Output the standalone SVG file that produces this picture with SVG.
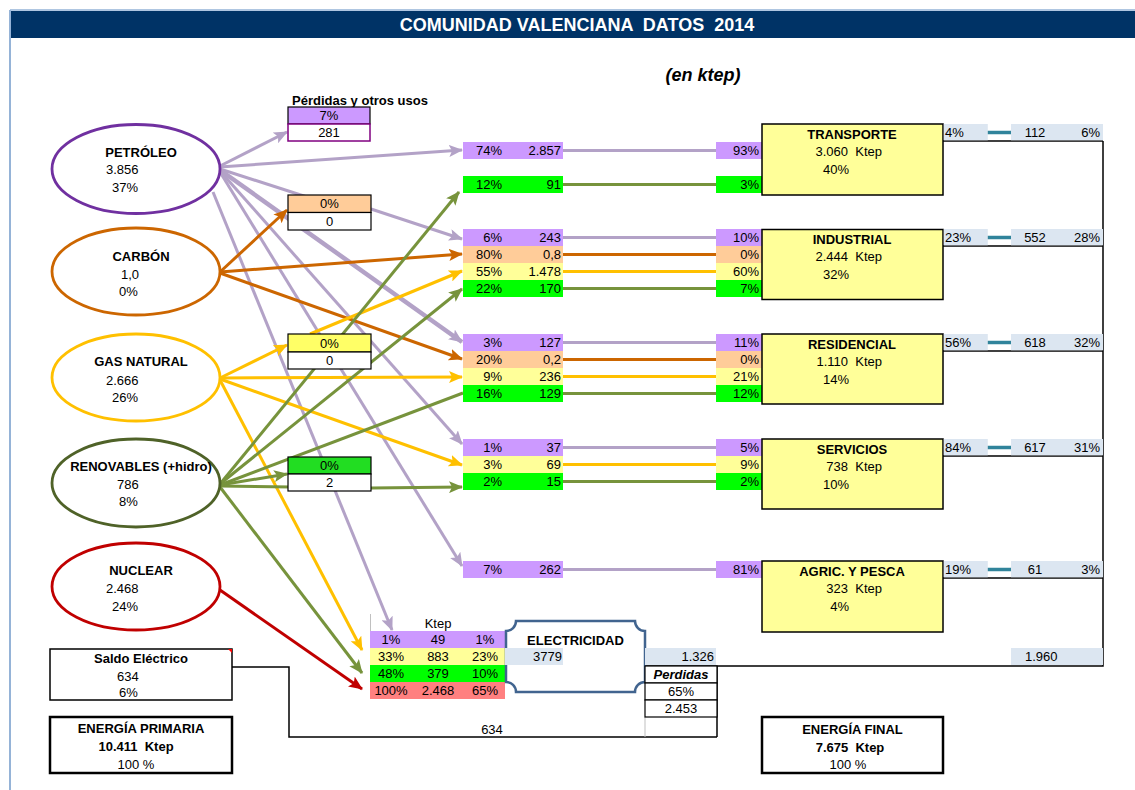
<svg xmlns="http://www.w3.org/2000/svg" width="1135" height="790" viewBox="0 0 1135 790">
<style>
text{font-family:"Liberation Sans",Arial,sans-serif;font-size:13px;fill:#000;white-space:pre}
.b{font-weight:bold}.c{text-anchor:middle}.e{text-anchor:end}
.pu{fill:#cc99ff}.pe{fill:#ffcc99}.ye{fill:#ffff99}.gr{fill:#00ff00}.sa{fill:#ff8080}.lb{fill:#dce6f1}
.lp{stroke:#b3a2c7;stroke-width:3;fill:none}
.lo{stroke:#cc6600;stroke-width:3;fill:none}
.ly{stroke:#ffc000;stroke-width:3;fill:none}
.lg{stroke:#77933c;stroke-width:3;fill:none}
.lr{stroke:#c00000;stroke-width:3;fill:none}
.lt{stroke:#31849b;stroke-width:3.5;fill:none}
.lk{stroke:#000;stroke-width:1.5;fill:none}
.sec{fill:#ffff99;stroke:#000;stroke-width:1.5}
.bx{stroke:#000;stroke-width:1.2}
.ell{fill:#fff;stroke-width:2.8}
</style>
<defs>
<marker id="ap" markerUnits="userSpaceOnUse" markerWidth="14" markerHeight="12" viewBox="0 0 14 12" refX="13" refY="6" orient="auto"><path d="M0,0 L14,6 L0,12 L3,6 z" fill="#b3a2c7"/></marker>
<marker id="ao" markerUnits="userSpaceOnUse" markerWidth="14" markerHeight="12" viewBox="0 0 14 12" refX="13" refY="6" orient="auto"><path d="M0,0 L14,6 L0,12 L3,6 z" fill="#cc6600"/></marker>
<marker id="ay" markerUnits="userSpaceOnUse" markerWidth="14" markerHeight="12" viewBox="0 0 14 12" refX="13" refY="6" orient="auto"><path d="M0,0 L14,6 L0,12 L3,6 z" fill="#ffc000"/></marker>
<marker id="ag" markerUnits="userSpaceOnUse" markerWidth="14" markerHeight="12" viewBox="0 0 14 12" refX="13" refY="6" orient="auto"><path d="M0,0 L14,6 L0,12 L3,6 z" fill="#77933c"/></marker>
<marker id="ar" markerUnits="userSpaceOnUse" markerWidth="14" markerHeight="12" viewBox="0 0 14 12" refX="13" refY="6" orient="auto"><path d="M0,0 L14,6 L0,12 L3,6 z" fill="#c00000"/></marker>
</defs>
<rect x="0" y="0" width="1135" height="790" fill="#fff"/>
<g id="frame">
<line x1="10" y1="10" x2="10" y2="790" stroke="#95b3d7" stroke-width="2"/>
<line x1="10" y1="10" x2="1135" y2="10" stroke="#95b3d7" stroke-width="1.5"/>
<rect x="11" y="11" width="1124" height="27" fill="#003366"/>
<text x="577" y="31" class="b c" style="font-size:18px;fill:#fff">COMUNIDAD VALENCIANA  DATOS  2014</text>
<text x="703" y="81" class="b c" style="font-size:18px;font-style:italic">(en ktep)</text>
</g>

<g id="connectors">
<line class="lp" x1="220" y1="166" x2="287" y2="132" marker-end="url(#ap)"/>
<line class="lp" x1="220" y1="167" x2="462" y2="150" marker-end="url(#ap)"/>
<line class="lp" x1="220" y1="169" x2="307" y2="197"/>
<line class="lp" x1="371" y1="209" x2="462" y2="239" marker-end="url(#ap)"/>
<line class="lp" x1="220" y1="170" x2="462" y2="342" style="stroke-width:4.5" marker-end="url(#ap)"/>
<line class="lp" x1="220" y1="171" x2="462" y2="444" marker-end="url(#ap)"/>
<line class="lp" x1="220" y1="172" x2="462" y2="566" marker-end="url(#ap)"/>
<line class="lp" x1="213" y1="192" x2="392" y2="630" marker-end="url(#ap)"/>
<line class="lo" x1="220" y1="272" x2="287" y2="210" marker-end="url(#ao)"/>
<line class="lo" x1="220" y1="272" x2="462" y2="254" marker-end="url(#ao)"/>
<line class="lo" x1="220" y1="273" x2="462" y2="359" marker-end="url(#ao)"/>
<line class="ly" x1="220" y1="378" x2="287" y2="345" marker-end="url(#ay)"/>
<line class="ly" x1="310" y1="334" x2="462" y2="271" marker-end="url(#ay)"/>
<line class="ly" x1="220" y1="378" x2="462" y2="377" marker-end="url(#ay)"/>
<line class="ly" x1="220" y1="379" x2="462" y2="465" marker-end="url(#ay)"/>
<line class="ly" x1="220" y1="380" x2="362" y2="650" marker-end="url(#ay)"/>
<line class="lg" x1="220" y1="484" x2="459" y2="192" marker-end="url(#ag)"/>
<line class="lg" x1="220" y1="484" x2="462" y2="289" marker-end="url(#ag)"/>
<line class="lg" x1="220" y1="485" x2="463" y2="393"/>
<line class="lg" x1="220" y1="485" x2="287" y2="474" marker-end="url(#ag)"/>
<line class="lg" x1="220" y1="486" x2="291" y2="487"/>
<line class="lg" x1="371" y1="488" x2="462" y2="487" marker-end="url(#ag)"/>
<line class="lg" x1="220" y1="487" x2="362" y2="673" marker-end="url(#ag)"/>
<line class="lr" x1="220" y1="590" x2="362" y2="689" marker-end="url(#ar)"/>
<line class="lp" x1="563" y1="150.5" x2="716" y2="150.5"/>
<line class="lg" x1="563" y1="184.5" x2="716" y2="184.5"/>
<line class="lp" x1="563" y1="237.5" x2="716" y2="237.5"/>
<line class="lo" x1="563" y1="254.5" x2="716" y2="254.5"/>
<line class="ly" x1="563" y1="271.5" x2="716" y2="271.5"/>
<line class="lg" x1="563" y1="288.5" x2="716" y2="288.5"/>
<line class="lp" x1="563" y1="342.5" x2="716" y2="342.5"/>
<line class="lo" x1="563" y1="359.5" x2="716" y2="359.5"/>
<line class="ly" x1="563" y1="376.5" x2="716" y2="376.5"/>
<line class="lg" x1="563" y1="393.5" x2="716" y2="393.5"/>
<line class="lp" x1="563" y1="447.5" x2="716" y2="447.5"/>
<line class="ly" x1="563" y1="464.5" x2="716" y2="464.5"/>
<line class="lg" x1="563" y1="481.5" x2="716" y2="481.5"/>
<line class="lp" x1="563" y1="569.5" x2="716" y2="569.5"/>
<line class="lt" x1="985" y1="132.5" x2="1011" y2="132.5"/>
<line class="lt" x1="985" y1="237.5" x2="1011" y2="237.5"/>
<line class="lt" x1="985" y1="342.5" x2="1011" y2="342.5"/>
<line class="lt" x1="985" y1="447.5" x2="1011" y2="447.5"/>
<line class="lt" x1="985" y1="569.5" x2="1011" y2="569.5"/>
<line class="lk" x1="943" y1="141" x2="1103" y2="141"/>
<line class="lk" x1="943" y1="246" x2="1103" y2="246"/>
<line class="lk" x1="943" y1="351" x2="1103" y2="351"/>
<line class="lk" x1="943" y1="456" x2="1103" y2="456"/>
<line class="lk" x1="943" y1="578" x2="1103" y2="578"/>
<polyline class="lk" points="1103,141 1103,666 645,666"/>
<polyline class="lk" points="232,667 289,667 289,737 717,737"/>
<line x1="645" y1="717" x2="645" y2="737" stroke="#bfbfbf" stroke-width="1"/>
<line class="lk" x1="717" y1="666" x2="717" y2="737"/>
<line x1="370.5" y1="614" x2="370.5" y2="631" stroke="#c0c0c0" stroke-width="1"/>
</g>

<g id="petroleo">
<ellipse class="ell" cx="136" cy="169" rx="84" ry="44.5" stroke="#7030a0"/>
<text x="141" y="157" class="b c">PETRÓLEO</text>
<text x="106" y="174">3.856</text>
<text x="112" y="192">37%</text>
</g>
<g id="carbon">
<ellipse class="ell" cx="136" cy="271.5" rx="84" ry="43.5" stroke="#cc6600"/>
<text x="141" y="261" class="b c">CARBÓN</text>
<text x="121" y="279">1,0</text>
<text x="119" y="296">0%</text>
</g>
<g id="gas-natural">
<ellipse class="ell" cx="136" cy="377.5" rx="84" ry="43.5" stroke="#ffc000"/>
<text x="141" y="366" class="b c">GAS NATURAL</text>
<text x="106" y="385">2.666</text>
<text x="112" y="402">26%</text>
</g>
<g id="renovables">
<ellipse class="ell" cx="136" cy="483" rx="84" ry="44" stroke="#4f6228"/>
<text x="141" y="471" class="b c">RENOVABLES (+hidro)</text>
<text x="117" y="489">786</text>
<text x="119" y="506">8%</text>
</g>
<g id="nuclear">
<ellipse class="ell" cx="136" cy="586.5" rx="84" ry="43.5" stroke="#c00000"/>
<text x="141" y="575" class="b c">NUCLEAR</text>
<text x="106" y="593">2.468</text>
<text x="112" y="611">24%</text>
</g>

<g id="perdidas-otros-usos">
<text x="360" y="105" class="b c">Pérdidas y otros usos</text>
<rect x="288" y="107" width="82" height="17" class="pu bx"/>
<rect x="288" y="124" width="82" height="17" fill="#fff" stroke="#800080" stroke-width="1.5"/>
<text x="329" y="120" class="c">7%</text>
<text x="329" y="137" class="c">281</text>
</g>
<g id="box-carbon">
<rect x="288" y="195" width="83" height="17.5" class="pe bx"/>
<rect x="288" y="212.5" width="83" height="17.5" fill="#fff" class="bx"/>
<text x="329.5" y="208" class="c">0%</text>
<text x="329.5" y="226" class="c">0</text>
</g>
<g id="box-gas">
<rect x="288" y="334" width="83" height="18" fill="#ffff66" class="bx"/>
<rect x="288" y="352" width="83" height="17" fill="#fff" class="bx"/>
<text x="329.5" y="347.5" class="c">0%</text>
<text x="329.5" y="365" class="c">0</text>
</g>
<g id="box-renovables">
<rect x="288" y="457" width="83" height="17" fill="#22dd22" class="bx"/>
<rect x="288" y="474" width="83" height="17" fill="#fff" class="bx"/>
<text x="329.5" y="470" class="c">0%</text>
<text x="329.5" y="487" class="c">2</text>
</g>

<g id="mid-transporte">
<rect class="pu" x="463" y="142" width="100" height="17"/><text class="e" x="502" y="155">74%</text><text class="e" x="561" y="155">2.857</text>
<rect class="gr" x="463" y="176" width="100" height="17"/><text class="e" x="502" y="189">12%</text><text class="e" x="561" y="189">91</text>
</g>
<g id="mid-industrial">
<rect class="pu" x="463" y="229" width="100" height="17"/><text class="e" x="502" y="242">6%</text><text class="e" x="561" y="242">243</text>
<rect class="pe" x="463" y="246" width="100" height="17"/><text class="e" x="502" y="259">80%</text><text class="e" x="561" y="259">0,8</text>
<rect class="ye" x="463" y="263" width="100" height="17"/><text class="e" x="502" y="276">55%</text><text class="e" x="561" y="276">1.478</text>
<rect class="gr" x="463" y="280" width="100" height="17"/><text class="e" x="502" y="293">22%</text><text class="e" x="561" y="293">170</text>
</g>
<g id="mid-residencial">
<rect class="pu" x="463" y="334" width="100" height="17"/><text class="e" x="502" y="347">3%</text><text class="e" x="561" y="347">127</text>
<rect class="pe" x="463" y="351" width="100" height="17"/><text class="e" x="502" y="364">20%</text><text class="e" x="561" y="364">0,2</text>
<rect class="ye" x="463" y="368" width="100" height="17"/><text class="e" x="502" y="381">9%</text><text class="e" x="561" y="381">236</text>
<rect class="gr" x="463" y="385" width="100" height="17"/><text class="e" x="502" y="398">16%</text><text class="e" x="561" y="398">129</text>
</g>
<g id="mid-servicios">
<rect class="pu" x="463" y="439" width="100" height="17"/><text class="e" x="502" y="452">1%</text><text class="e" x="561" y="452">37</text>
<rect class="ye" x="463" y="456" width="100" height="17"/><text class="e" x="502" y="469">3%</text><text class="e" x="561" y="469">69</text>
<rect class="gr" x="463" y="473" width="100" height="17"/><text class="e" x="502" y="486">2%</text><text class="e" x="561" y="486">15</text>
</g>
<g id="mid-agric">
<rect class="pu" x="463" y="561" width="100" height="17"/><text class="e" x="502" y="574">7%</text><text class="e" x="561" y="574">262</text>
</g>

<g id="transporte">
<rect class="pu" x="716" y="142" width="46" height="17"/><text class="e" x="759" y="155">93%</text>
<rect class="gr" x="716" y="176" width="46" height="17"/><text class="e" x="759" y="189">3%</text>
<rect class="sec" x="762" y="124" width="181" height="71"/>
<text x="852" y="138.5" class="b c">TRANSPORTE</text>
<text x="882" y="156" class="e">3.060  Ktep</text>
<text x="849" y="174" class="e">40%</text>
<rect class="lb" x="943.8" y="124" width="44" height="16.3"/><text x="945" y="137">4%</text>
<rect class="lb" x="1011" y="124" width="92" height="16.3"/><text x="1035" y="137" class="c">112</text><text x="1100" y="137" class="e">6%</text>
</g>
<g id="industrial">
<rect class="pu" x="716" y="229" width="46" height="17"/><text class="e" x="759" y="242">10%</text>
<rect class="pe" x="716" y="246" width="46" height="17"/><text class="e" x="759" y="259">0%</text>
<rect class="ye" x="716" y="263" width="46" height="17"/><text class="e" x="759" y="276">60%</text>
<rect class="gr" x="716" y="280" width="46" height="17"/><text class="e" x="759" y="293">7%</text>
<rect class="sec" x="762" y="229.5" width="181" height="70"/>
<text x="852" y="243.5" class="b c">INDUSTRIAL</text>
<text x="882" y="261" class="e">2.444  Ktep</text>
<text x="849" y="279" class="e">32%</text>
<rect class="lb" x="943.8" y="229" width="44" height="16.3"/><text x="945" y="242">23%</text>
<rect class="lb" x="1011" y="229" width="92" height="16.3"/><text x="1035" y="242" class="c">552</text><text x="1100" y="242" class="e">28%</text>
</g>
<g id="residencial">
<rect class="pu" x="716" y="334" width="46" height="17"/><text class="e" x="759" y="347">11%</text>
<rect class="pe" x="716" y="351" width="46" height="17"/><text class="e" x="759" y="364">0%</text>
<rect class="ye" x="716" y="368" width="46" height="17"/><text class="e" x="759" y="381">21%</text>
<rect class="gr" x="716" y="385" width="46" height="17"/><text class="e" x="759" y="398">12%</text>
<rect class="sec" x="762" y="334" width="181" height="70"/>
<text x="852" y="348.5" class="b c">RESIDENCIAL</text>
<text x="882" y="366" class="e">1.110  Ktep</text>
<text x="849" y="384" class="e">14%</text>
<rect class="lb" x="943.8" y="334" width="44" height="16.3"/><text x="945" y="347">56%</text>
<rect class="lb" x="1011" y="334" width="92" height="16.3"/><text x="1035" y="347" class="c">618</text><text x="1100" y="347" class="e">32%</text>
</g>
<g id="servicios">
<rect class="pu" x="716" y="439" width="46" height="17"/><text class="e" x="759" y="452">5%</text>
<rect class="ye" x="716" y="456" width="46" height="17"/><text class="e" x="759" y="469">9%</text>
<rect class="gr" x="716" y="473" width="46" height="17"/><text class="e" x="759" y="486">2%</text>
<rect class="sec" x="762" y="439" width="181" height="70"/>
<text x="852" y="453.5" class="b c">SERVICIOS</text>
<text x="882" y="471" class="e">738  Ktep</text>
<text x="849" y="489" class="e">10%</text>
<rect class="lb" x="943.8" y="439" width="44" height="16.3"/><text x="945" y="452">84%</text>
<rect class="lb" x="1011" y="439" width="92" height="16.3"/><text x="1035" y="452" class="c">617</text><text x="1100" y="452" class="e">31%</text>
</g>
<g id="agric-pesca">
<rect class="pu" x="716" y="561" width="46" height="17"/><text class="e" x="759" y="574">81%</text>
<rect class="sec" x="762" y="561" width="181" height="71"/>
<text x="852" y="575.5" class="b c">AGRIC. Y PESCA</text>
<text x="882" y="593" class="e">323  Ktep</text>
<text x="849" y="611" class="e">4%</text>
<rect class="lb" x="943.8" y="561" width="44" height="16.3"/><text x="945" y="574">19%</text>
<rect class="lb" x="1011" y="561" width="92" height="16.3"/><text x="1035" y="574" class="c">61</text><text x="1100" y="574" class="e">3%</text>
</g>

<g id="generacion-electrica">
<text x="438" y="628" class="c">Ktep</text>
<rect class="pu" x="370" y="631" width="135" height="17"/>
<rect class="ye" x="370" y="648" width="135" height="17"/>
<rect class="gr" x="370" y="665" width="135" height="17"/>
<rect class="sa" x="370" y="682" width="135" height="17"/>
<text x="391" y="644" class="c">1%</text><text x="438" y="644" class="c">49</text><text x="485" y="644" class="c">1%</text>
<text x="391" y="661" class="c">33%</text><text x="438" y="661" class="c">883</text><text x="485" y="661" class="c">23%</text>
<text x="391" y="678" class="c">48%</text><text x="438" y="678" class="c">379</text><text x="485" y="678" class="c">10%</text>
<text x="391" y="695" class="c">100%</text><text x="438" y="695" class="c">2.468</text><text x="485" y="695" class="c">65%</text>
</g>
<g id="electricidad">
<path d="M516,621 H635 A10,10 0 0 0 645,631 V682 A10,10 0 0 0 635,692 H516 A10,10 0 0 0 506,682 V631 A10,10 0 0 0 516,621 Z" fill="#fff" stroke="#41648f" stroke-width="2.5"/>
<text x="575.5" y="644.5" class="b c">ELECTRICIDAD</text>
<rect class="lb" x="505" y="648" width="58" height="17"/>
<text x="533" y="661">3779</text>
</g>
<g id="perdidas-electricas">
<rect class="lb" x="645" y="648" width="71" height="17"/>
<text x="714" y="661" class="e">1.326</text>
<rect x="645" y="666" width="72" height="17" fill="#fff" stroke="#000" stroke-width="1.2"/>
<text x="681" y="679" class="b c" style="font-style:italic">Perdidas</text>
<rect x="645" y="683" width="72" height="17" fill="#fff" stroke="#000" stroke-width="1.2"/>
<text x="681" y="696" class="c">65%</text>
<rect x="645" y="700" width="72" height="17" fill="#fff" stroke="#000" stroke-width="1.2"/>
<text x="681" y="713" class="c">2.453</text>
</g>
<g id="consumo-final-total">
<rect class="lb" x="1011" y="648" width="92" height="17"/>
<text x="1025" y="661">1.960</text>
</g>
<g id="saldo-electrico">
<rect x="50" y="649" width="182" height="51" fill="#fff" stroke="#000" stroke-width="1.5"/>
<path d="M228,649 L232,649 L232,653 z" fill="#ff0000"/>
<text x="141" y="662.5" class="b c">Saldo Eléctrico</text>
<text x="117" y="680.5">634</text>
<text x="119" y="697">6%</text>
<text x="492" y="733.5" class="c">634</text>
</g>
<g id="energia-primaria">
<rect x="50" y="717" width="182" height="56" fill="#fff" stroke="#000" stroke-width="2.5"/>
<text x="141" y="732.5" class="b c">ENERGÍA PRIMARIA</text>
<text x="136" y="751" class="b c">10.411  Ktep</text>
<text x="136" y="768.5" class="c">100 %</text>
</g>
<g id="energia-final">
<rect x="762" y="717" width="181" height="56" fill="#fff" stroke="#000" stroke-width="2.5"/>
<text x="852.5" y="733.5" class="b c">ENERGÍA FINAL</text>
<text x="850" y="751.5" class="b c">7.675  Ktep</text>
<text x="848" y="768.5" class="c">100 %</text>
</g>
</svg>
